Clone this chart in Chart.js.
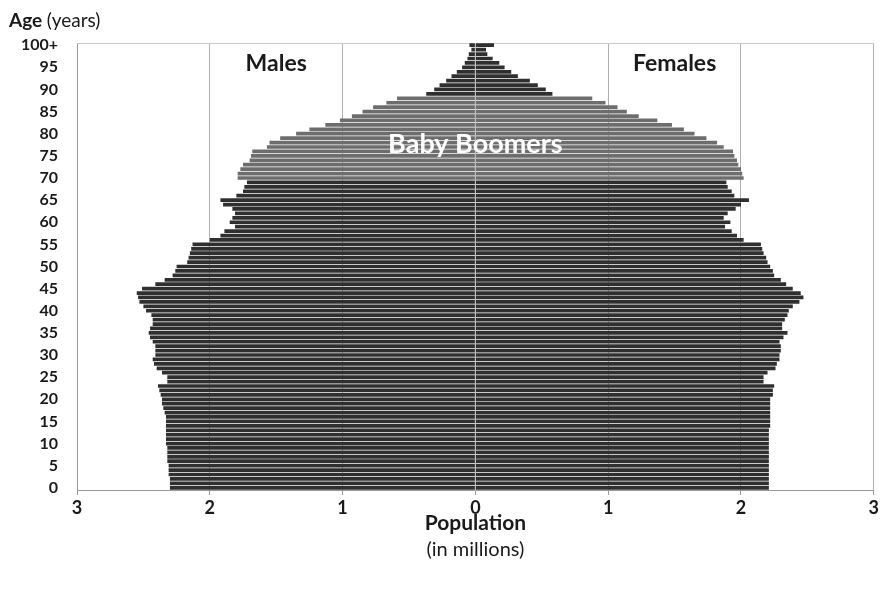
<!DOCTYPE html>
<html>
<head>
<meta charset="utf-8">
<script src="https://cdn.jsdelivr.net/npm/chart.js@4/dist/chart.umd.min.js"></script>
<style>
  html, body { margin: 0; padding: 0; background: #fff; }
  #wrap { width: 881px; height: 589px; position: relative; }
</style>
</head>
<body>
<div id="wrap"><canvas id="c" width="881" height="589"></canvas></div>
<script>
// Age categories 0 .. 100+
const ages = Array.from({length: 101}, (_, i) => i === 100 ? '100+' : String(i));

// Population in millions (index = age)
const males = [
  2.30, 2.30, 2.30, 2.31, 2.31, 2.31, 2.32, 2.32, 2.32, 2.32,
  2.33, 2.33, 2.33, 2.33, 2.33, 2.33, 2.33, 2.34, 2.35, 2.36,
  2.36, 2.37, 2.38, 2.39, 2.32, 2.32, 2.36, 2.40, 2.42, 2.43,
  2.41, 2.41, 2.41, 2.43, 2.45, 2.46, 2.45, 2.43, 2.43, 2.44,
  2.48, 2.50, 2.53, 2.54, 2.55, 2.51, 2.41, 2.34, 2.28, 2.26,
  2.25, 2.17, 2.16, 2.15, 2.14, 2.13, 2.00, 1.92, 1.89, 1.81,
  1.85, 1.83, 1.81, 1.83, 1.90, 1.92, 1.80, 1.75, 1.74, 1.72,
  1.79, 1.79, 1.77, 1.75, 1.70, 1.69, 1.68, 1.57, 1.55, 1.47,
  1.35, 1.25, 1.13, 1.02, 0.93, 0.85, 0.77, 0.67, 0.59, 0.37,
  0.31, 0.27, 0.22, 0.18, 0.14, 0.10, 0.08, 0.06, 0.05, 0.03,
  0.045
];
const females = [
  2.21, 2.21, 2.21, 2.21, 2.21, 2.21, 2.21, 2.21, 2.21, 2.21,
  2.21, 2.21, 2.21, 2.21, 2.22, 2.22, 2.22, 2.22, 2.22, 2.22,
  2.22, 2.24, 2.24, 2.25, 2.17, 2.17, 2.20, 2.26, 2.27, 2.29,
  2.29, 2.30, 2.30, 2.29, 2.32, 2.35, 2.31, 2.31, 2.33, 2.35,
  2.36, 2.39, 2.44, 2.47, 2.45, 2.39, 2.34, 2.30, 2.25, 2.24,
  2.22, 2.20, 2.19, 2.17, 2.16, 2.15, 2.02, 1.97, 1.93, 1.88,
  1.92, 1.87, 1.90, 1.96, 2.00, 2.06, 1.95, 1.93, 1.90, 1.89,
  2.02, 2.01, 2.00, 1.98, 1.97, 1.95, 1.94, 1.87, 1.82, 1.74,
  1.65, 1.57, 1.48, 1.37, 1.23, 1.14, 1.07, 0.98, 0.88, 0.58,
  0.53, 0.47, 0.41, 0.32, 0.27, 0.22, 0.18, 0.13, 0.09, 0.08,
  0.14
];
// Baby boomer age range (inclusive)
const boomerFirstAge = 70;
const boomerLastAge = 88;
// X tick values (millions)
const xTicks = [-3, -2, -1, 0, 1, 2, 3];

const DARK = '#2f2f2f';
const BOOM = '#6d6d6d';
const FONT = 'Lato, "Open Sans", sans-serif';

const barColors = ages.map((_, i) => (i >= boomerFirstAge && i <= boomerLastAge) ? BOOM : DARK);

const overlay = {
  id: 'overlay',
  afterDatasetsDraw(chart) {
    const {ctx, chartArea, scales} = chart;
    // zero line over bars
    const x0 = scales.x.getPixelForValue(0);
    ctx.save();
    ctx.strokeStyle = 'rgba(190,190,190,0.9)';
    ctx.lineWidth = 1;
    ctx.beginPath();
    ctx.moveTo(Math.round(x0) + 0.5, chartArea.top);
    ctx.lineTo(Math.round(x0) + 0.5, chartArea.bottom);
    ctx.stroke();

    ctx.fillStyle = '#1a1a1a';
    ctx.textAlign = 'center';
    ctx.textBaseline = 'middle';
    ctx.font = 'bold 23px ' + FONT;
    ctx.fillText('Males', scales.x.getPixelForValue(-1.5), 64);
    ctx.fillText('Females', scales.x.getPixelForValue(1.5), 64);

    // Baby Boomers label
    const yMid = (scales.y.getPixelForValue(77) + scales.y.getPixelForValue(78)) / 2;
    ctx.fillStyle = '#ffffff';
    ctx.font = 'bold 27px ' + FONT;
    ctx.fillText('Baby Boomers', x0, yMid);

    // Age (years)
    ctx.textAlign = 'left';
    ctx.fillStyle = '#1a1a1a';
    ctx.font = 'bold 19px ' + FONT;
    ctx.fillText('Age', 9, 21);
    const w = ctx.measureText('Age ').width;
    ctx.font = '19px ' + FONT;
    ctx.fillText('(years)', 9 + w, 21);

    // X axis title
    ctx.textAlign = 'center';
    ctx.font = 'bold 21px ' + FONT;
    ctx.fillText('Population', x0, 523);
    ctx.font = '20px ' + FONT;
    ctx.fillText('(in millions)', x0, 550);
    ctx.restore();
  }
};

new Chart(document.getElementById('c'), {
  type: 'bar',
  data: {
    labels: ages,
    datasets: [
      { label: 'Males', data: males.map(v => -v), backgroundColor: barColors,
        barPercentage: 0.84, categoryPercentage: 1.0, borderWidth: 0 },
      { label: 'Females', data: females, backgroundColor: barColors,
        barPercentage: 0.84, categoryPercentage: 1.0, borderWidth: 0 }
    ]
  },
  options: {
    indexAxis: 'y',
    responsive: false,
    animation: false,
    devicePixelRatio: 1,
    layout: { padding: { left: 0, right: 7, top: 43, bottom: 0 } },
    plugins: { legend: { display: false }, tooltip: { enabled: false }, title: { display: false } },
    scales: {
      x: {
        type: 'linear',
        stacked: true,
        min: -3, max: 3,
        afterBuildTicks: s => { s.ticks = xTicks.map(v => ({value: v})); },
        afterFit: s => { s.height = 99; },
        ticks: {
          callback: v => String(Math.abs(v)),
          color: '#1a1a1a',
          font: { family: FONT, size: 18, weight: 'bold' },
          padding: 2,
          maxRotation: 0
        },
        grid: {
          color: '#b0b0b0',
          lineWidth: 1,
          drawTicks: true,
          tickLength: 5,
          tickColor: '#999'
        },
        border: { display: true, color: '#999' }
      },
      y: {
        stacked: true,
        reverse: true,
        afterFit: s => { s.width = 77; },
        ticks: {
          autoSkip: false,
          callback: function(v, i) { return (i % 5 === 0) ? this.getLabelForValue(v) : ''; },
          color: '#1a1a1a',
          font: { family: FONT, size: 16, weight: 'bold' },
          padding: 19
        },
        grid: { display: false, drawTicks: false },
        border: { display: true, color: '#999' }
      }
    }
  },
  plugins: [overlay, {
    id: 'frame',
    beforeDatasetsDraw(chart) {
      const {ctx, chartArea} = chart;
      ctx.save();
      ctx.strokeStyle = '#c8c8c8';
      ctx.lineWidth = 1;
      ctx.beginPath();
      ctx.moveTo(chartArea.left, chartArea.top + 0.5);
      ctx.lineTo(chartArea.right, chartArea.top + 0.5);
      ctx.stroke();
      ctx.restore();
    }
  }]
});
</script>
</body>
</html>
